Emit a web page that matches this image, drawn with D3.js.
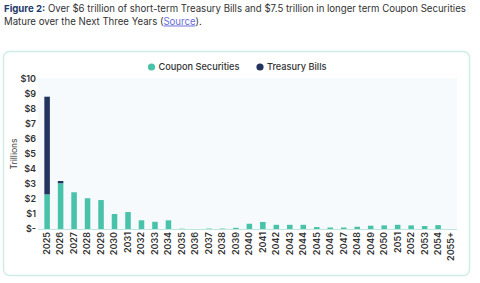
<!DOCTYPE html>
<html><head><meta charset="utf-8">
<script src="https://cdn.jsdelivr.net/npm/d3@7"></script>
<style>
body{margin:0;background:#fff;font-family:Inter,"Open Sans",sans-serif;}
svg{display:block}
</style></head>
<body>
<svg id="c" width="480" height="283"></svg>
<script>
const categories = ["2025","2026","2027","2028","2029","2030","2031","2032","2033","2034","2035","2036","2037","2038","2039","2040","2041","2042","2043","2044","2045","2046","2047","2048","2049","2050","2051","2052","2053","2054","2055+"];
const couponSecurities = [2.31,3.05,2.45,2.05,1.93,1.0,1.13,0.58,0.48,0.58,0.02,0,0.03,0.03,0.08,0.35,0.47,0.28,0.28,0.28,0.13,0.1,0.1,0.15,0.22,0.24,0.28,0.24,0.2,0.26,0];
const treasuryBills = [6.51,0.15,0,0,0,0,0,0,0,0,0,0,0,0,0,0,0,0,0,0,0,0,0,0,0,0,0,0,0,0,0];
const yTicks = [0,1,2,3,4,5,6,7,8,9,10];
const seriesNames = ["Coupon Securities","Treasury Bills"];
const colors = ["#48c2a9","#25335f"];

const svg = d3.select("#c");
// title
const t1 = svg.append("text").attr("x",4).attr("y",12).attr("font-size",10.6).attr("fill","#333");
t1.append("tspan").attr("font-weight",700).attr("fill","#1d3a6b").text("Figure 2:");
t1.append("tspan").text("  Over $6 trillion of short-term Treasury Bills and $7.5 trillion in longer term Coupon Securities");
const w1 = t1.node().getComputedTextLength();
const fs = 10.6 * 462 / w1;
t1.attr("font-size", fs);
const t2 = svg.append("text").attr("x",4).attr("y",24.5).attr("font-size",fs).attr("fill","#333");
t2.append("tspan").text("Mature over the Next Three Years (");
t2.append("tspan").attr("fill","#6a6fd8").attr("text-decoration","underline").text("Source");
t2.append("tspan").text(").");

// card
svg.append("rect").attr("x",3.5).attr("y",51.5).attr("width",466).attr("height",224).attr("rx",6)
  .attr("fill","#fff").attr("stroke","#cdeee7").attr("stroke-width",1.5);

const y = d3.scaleLinear().domain([0,10]).range([229,79]);
const x = d3.scaleBand().domain(categories).range([40.3,458.4]).paddingInner(0.59).paddingOuter(0.3);

svg.append("rect").attr("x",38).attr("y",78).attr("width",419).attr("height",151).attr("fill","#f6fafd");

const data = categories.map((c,i)=>({cat:c, coupon:couponSecurities[i], bills:treasuryBills[i]}));
const stack = d3.stack().keys(["coupon","bills"])(data);
svg.append("g").selectAll("g").data(stack).join("g").attr("fill",(d,i)=>colors[i])
  .selectAll("rect").data(d=>d).join("rect")
  .attr("x",d=>x(d.data.cat)).attr("width",x.bandwidth())
  .attr("y",d=>y(d[1])).attr("height",d=>Math.max(0,y(d[0])-y(d[1])));

// baseline
svg.append("line").attr("x1",38).attr("x2",457).attr("y1",229.5).attr("y2",229.5).attr("stroke","#bfe6dc").attr("stroke-width",1);

// y axis
const ya = svg.append("g").attr("transform","translate(36,0)")
  .call(d3.axisLeft(y).tickValues(yTicks).tickSize(0).tickPadding(0).tickFormat(d=>d===0?"$-":"$"+d));
ya.select(".domain").remove();
ya.selectAll("text").attr("font-size",9).attr("font-family","Inter,sans-serif").attr("font-weight",600).attr("fill","#333");

svg.append("text").attr("transform","translate(17,154) rotate(-90)").attr("text-anchor","middle")
  .attr("font-size",8.5).attr("fill","#444").text("Trillions");

// x axis
const xa = svg.append("g").attr("transform","translate(0,232)")
  .call(d3.axisBottom(x).tickSize(0).tickPadding(0));
xa.select(".domain").remove();
xa.selectAll("text").attr("font-size",9).attr("font-family","Inter,sans-serif").attr("font-weight",600).attr("fill","#333")
  .attr("transform","rotate(-90)").attr("text-anchor","end").attr("dx",0).attr("dy","0.32em").attr("x",0).attr("y",0);

// legend
const legX = [151.5,260];
const lg = svg.append("g").selectAll("g").data(seriesNames).join("g")
  .attr("transform",(d,i)=>`translate(${legX[i]},67)`);
lg.append("circle").attr("r",3.6).attr("fill",(d,i)=>colors[i]);
lg.append("text").attr("x",7).attr("dy","0.35em").attr("font-size",9.2).attr("fill","#333").attr("font-weight",500).text(d=>d);
</script>
</body></html>
